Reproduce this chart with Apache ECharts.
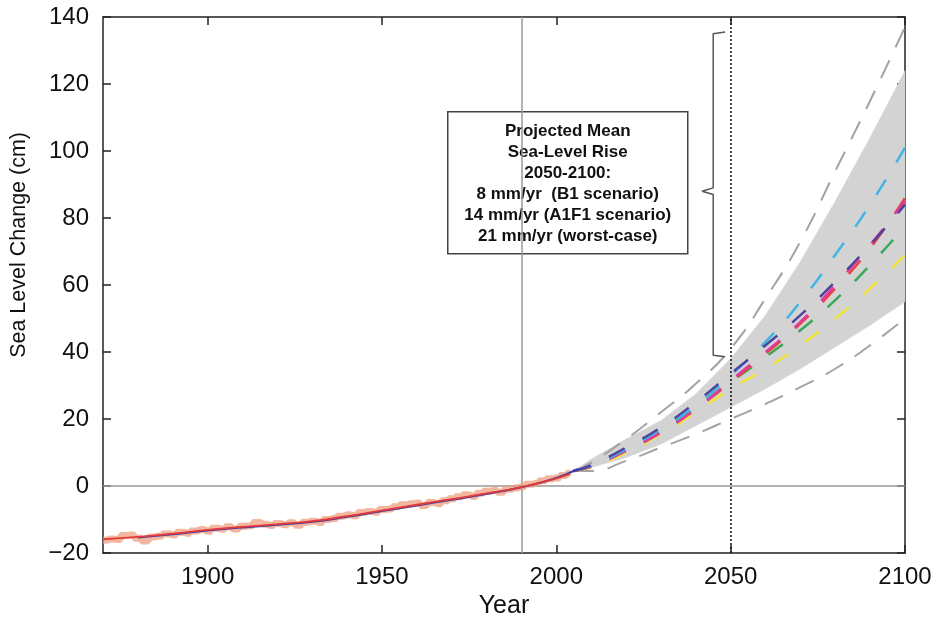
<!DOCTYPE html>
<html>
<head>
<meta charset="utf-8">
<script src="https://cdn.jsdelivr.net/npm/echarts@6/dist/echarts.min.js"></script>
<style>
  html, body { margin: 0; padding: 0; background: #fff; }
  #chart { width: 938px; height: 617px; }
</style>
</head>
<body>
<div id="chart"></div>
<script>
  // observed sea level, every 2 years from 1870
  let obsStart = 1870;
  let obsValues = [
    -16.2, -15.8, -16.0, -14.8, -14.6, -15.6, -16.4, -15.2, -14.9, -14.3,
    -14.6, -13.8, -14.1, -13.4, -13.0, -13.5, -12.6, -12.9, -12.2, -12.8,
    -12.0, -11.9, -10.9, -11.4, -11.8, -11.2, -11.6, -11.0, -11.7, -10.8,
    -10.5, -10.9, -10.0, -9.7, -9.0, -8.6, -8.9, -7.9, -7.6, -7.8,
    -7.0, -6.9, -6.2, -5.6, -5.3, -5.1, -5.8, -4.9, -5.3, -4.4,
    -3.8, -3.2, -2.6, -3.1, -2.2, -1.6, -1.3, -1.9, -1.0, -0.6,
    -0.2, 0.5, 0.8, 1.6, 2.2, 2.4, 3.1, 3.8
  ];

  let smoothYears = [1870, 1880, 1890, 1900, 1910, 1920, 1930, 1940, 1950, 1960, 1970, 1980, 1990, 2000, 2004];
  let smoothValues = [-15.9, -15.2, -14.2, -13.1, -12.2, -11.4, -10.5, -9.0, -7.3, -5.6, -3.9, -2.2, -0.3, 2.3, 3.6];

  let modelYears = [1880, 1890, 1900, 1910, 1920, 1930, 1940, 1950, 1960, 1970, 1980, 1990, 2000, 2006];
  let modelValues = [-15.4, -14.4, -13.3, -12.4, -11.6, -10.7, -9.2, -7.5, -5.8, -4.1, -2.4, -0.4, 2.4, 5.0];

  // projections
  let projYears = [2005, 2010, 2020, 2030, 2040, 2050, 2060, 2070, 2080, 2090, 2100];
  let bandLow = [4.5, 5.5, 8.5, 12.5, 18, 23.5, 29, 35, 41.5, 48, 55];
  let bandHigh = [4.5, 8, 14, 19.5, 27.5, 38, 51, 67, 85, 104, 124];
  let grayLow = [4.5, 4.5, 7.5, 11.5, 15.5, 20, 24.5, 29.5, 35, 42, 50];
  let grayHigh = [4.5, 7, 14, 22, 30.5, 41, 56, 73, 94, 115, 137];

  let scenCyan = [4.5, 6, 11, 17, 24, 33, 43, 55, 69, 84, 101];
  let scenPurple = [4.5, 6.2, 11.5, 17.5, 25, 33.5, 42, 51, 61, 72, 84];
  let scenMagenta = [4.5, 5.8, 10.5, 16, 23, 31.5, 40, 49, 60, 72, 85];
  let scenRed = [4.5, 5.8, 10.5, 16, 23, 31, 39.5, 48.5, 59, 71, 86];
  let scenGreen = [4.5, 5.9, 10.8, 16.5, 23.5, 31, 38.5, 46.5, 55.5, 66, 77.5];
  let scenYellow = [4.5, 5.5, 10, 15.5, 22, 29, 35, 42, 50, 59, 69];

  let xTicks = [1900, 1950, 2000, 2050, 2100];
  let boxLines = [
    'Projected Mean',
    'Sea-Level Rise',
    '2050-2100:',
    '8 mm/yr  (B1 scenario)',
    '14 mm/yr (A1F1 scenario)',
    '21 mm/yr (worst-case)'
  ];

  // brace next to the 2050 line
  let braceX = [2048.4, 2045, 2045, 2041.8, 2045, 2045, 2048.4];
  let braceY = [135.5, 135, 89, 88, 87, 39, 38.6];

  let pairs = (xs, ys) => xs.map((x, i) => [x, ys[i]]);

  let dashed = (name, ys, color, width, dash) => ({
    name: name,
    type: 'line',
    data: pairs(projYears, ys),
    smooth: true,
    symbol: 'none',
    lineStyle: { color: color, width: width, type: dash },
    z: 4
  });

  let tickFont = { fontFamily: 'Liberation Sans', fontSize: 24, color: '#111' };
  let frame = { onZero: false, lineStyle: { color: '#222', width: 1.5 } };
  let tick = { inside: true, length: 8, lineStyle: { color: '#222', width: 1.5 } };

  let chart = echarts.init(document.getElementById('chart'));
  chart.setOption({
    animation: false,
    backgroundColor: '#fff',
    grid: { left: 103, right: 33, top: 17, bottom: 64, containLabel: false, outerBoundsMode: 'none' },
    xAxis: [
      {
        type: 'value', min: 1870, max: 2100, position: 'bottom',
        axisLine: frame,
        axisTick: Object.assign({ customValues: xTicks }, tick),
        axisLabel: Object.assign({ margin: 12, customValues: xTicks, formatter: v => '' + v }, tickFont),
        splitLine: { show: false },
        name: 'Year', nameLocation: 'middle', nameGap: 41,
        nameTextStyle: { fontFamily: 'Liberation Sans', fontSize: 25, color: '#111' }
      },
      {
        type: 'value', min: 1870, max: 2100, position: 'top',
        axisLine: frame,
        axisTick: Object.assign({ customValues: xTicks }, tick),
        axisLabel: { show: false },
        splitLine: { show: false }
      }
    ],
    yAxis: [
      {
        type: 'value', min: -20, max: 140, interval: 20, position: 'left',
        axisLine: frame,
        axisTick: tick,
        axisLabel: Object.assign({ margin: 14, formatter: v => v < 0 ? '\u2212' + (-v) : '' + v }, tickFont),
        splitLine: { show: false }
      },
      {
        type: 'value', min: -20, max: 140, interval: 20, position: 'right',
        axisLine: frame,
        axisTick: tick,
        axisLabel: { show: false },
        splitLine: { show: false }
      }
    ],
    graphic: [
      {
        type: 'text', left: 8, top: 132, rotation: Math.PI / 2, z: 10,
        style: { text: 'Sea Level Change (cm)', fontFamily: 'Liberation Sans', fontSize: 21.5, fill: '#111' }
      },
      {
        type: 'group', left: 447, top: 111, z: 20,
        children: [
          {
            type: 'rect', shape: { x: 0, y: 0, width: 240, height: 142 },
            style: { fill: '#fff', stroke: '#444', lineWidth: 1.5 }
          },
          {
            type: 'text', x: 120, y: 9,
            style: {
              text: boxLines.join('\n'), align: 'center', verticalAlign: 'top',
              fontFamily: 'Liberation Sans', fontWeight: 'bold', fontSize: 17,
              lineHeight: 21, fill: '#111'
            }
          }
        ]
      }
    ],
    series: [
      {
        // grey envelope between bandLow and bandHigh
        name: 'band', type: 'custom',
        data: pairs(projYears, bandHigh),
        renderItem: (params, api) => {
          if (params.dataIndex !== 0) return;
          let top = projYears.map((x, i) => api.coord([x, bandHigh[i]]));
          let bottom = projYears.map((x, i) => api.coord([x, bandLow[i]])).reverse();
          return {
            type: 'polygon',
            shape: { points: top.concat(bottom) },
            style: { fill: '#d3d3d3', stroke: '#d3d3d3', lineWidth: 0.5 }
          };
        },
        z: 2
      },
      dashed('grayHigh', grayHigh, '#a3a3a3', 2, [20, 14]),
      dashed('grayLow', grayLow, '#a3a3a3', 2, [20, 14]),
      dashed('yellow', scenYellow, '#f0e63a', 2.5, [18, 20]),
      dashed('green', scenGreen, '#3aa85a', 2.5, [18, 20]),
      dashed('red', scenRed, '#e8413f', 2.5, [18, 20]),
      dashed('magenta', scenMagenta, '#e03a9c', 2.5, [18, 20]),
      dashed('cyan', scenCyan, '#41b4e6', 2.5, [18, 20]),
      dashed('purple', scenPurple, '#4e44a0', 2.5, [18, 20]),
      {
        name: 'observed', type: 'line', step: 'middle', symbol: 'none',
        data: pairs(obsValues.map((v, i) => obsStart + 2 * i), obsValues),
        lineStyle: { color: 'rgba(238,155,122,0.72)', width: 7 }, z: 5
      },
      {
        name: 'model', type: 'line', smooth: true, symbol: 'none',
        data: pairs(modelYears, modelValues),
        lineStyle: { color: '#3c3ca8', width: 2 }, z: 6
      },
      {
        name: 'smoothed', type: 'line', smooth: true, symbol: 'none',
        data: pairs(smoothYears, smoothValues),
        lineStyle: { color: '#e53a3a', width: 1.8 }, z: 7
      },
      {
        name: 'brace', type: 'line', symbol: 'none',
        data: pairs(braceX, braceY),
        lineStyle: { color: '#555', width: 1.5 }, z: 8,
        markLine: {
          silent: true, symbol: 'none', label: { show: false },
          data: [
            { yAxis: 0, lineStyle: { color: '#9a9a9a', width: 1.5, type: 'solid' } },
            { xAxis: 1990, lineStyle: { color: '#9a9a9a', width: 1.5, type: 'solid' } },
            { xAxis: 2050, lineStyle: { color: '#111', width: 1.5, type: [2, 2] } }
          ]
        }
      }
    ]
  });
</script>
</body>
</html>
